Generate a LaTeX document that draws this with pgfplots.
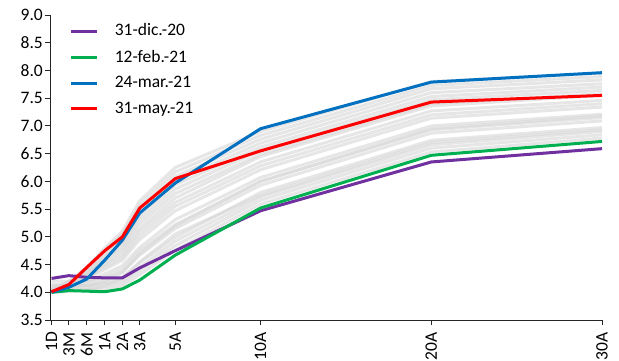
\documentclass[border=0pt]{standalone}
\usepackage{pgfplots}
\usepackage{pgfplotstable}
\pgfplotsset{compat=1.18}
\usepackage{fontspec}
\setmainfont{Carlito}
\definecolor{cpurple}{HTML}{7030A0}
\definecolor{cgreen}{HTML}{00B050}
\definecolor{cblue}{HTML}{0070C0}
\definecolor{cred}{HTML}{FF0000}
\definecolor{axgray}{HTML}{262626}

\pgfplotstableread{
x g1 g2 g3 g4 g5 g6 g7 g8 g9 g10 g11 g12 g13 g14 g15 g16 g17 g18 g19 g20
-2.25 4.00 4.01 4.15 4.02 4.20 4.02 4.03 4.10 4.03 4.04 4.04 4.04 4.05 4.05 4.05 4.05 4.00 4.00 4.12 4.05
-1.23 4.03 4.04 4.12 4.07 4.20 4.09 4.11 4.15 4.13 4.15 4.16 4.16 4.17 4.18 4.19 4.20 4.02 4.05 4.10 4.14
-0.18 4.04 4.06 4.12 4.15 4.20 4.19 4.24 4.26 4.28 4.32 4.34 4.36 4.39 4.41 4.43 4.45 4.05 4.10 4.12 4.30
0.87 4.06 4.10 4.18 4.25 4.28 4.33 4.41 4.45 4.49 4.57 4.60 4.64 4.68 4.72 4.76 4.80 4.12 4.20 4.15 4.52
1.90 4.11 4.16 4.27 4.37 4.42 4.48 4.58 4.63 4.68 4.79 4.84 4.89 4.95 5.00 5.05 5.10 4.25 4.35 4.20 4.74
2.92 4.32 4.39 4.53 4.67 4.75 4.81 4.95 5.02 5.09 5.23 5.30 5.37 5.44 5.51 5.58 5.65 4.55 4.70 4.45 5.15
5 4.76 4.84 4.99 5.15 5.22 5.31 5.47 5.55 5.62 5.78 5.86 5.94 6.01 6.09 6.17 6.25 5.05 5.20 4.92 5.70
10 5.59 5.66 5.80 5.93 6.00 6.07 6.21 6.28 6.35 6.49 6.56 6.62 6.69 6.76 6.83 6.90 5.75 6.00 5.72 6.45
20 6.53 6.60 6.74 6.87 6.93 7.00 7.14 7.20 7.27 7.40 7.47 7.53 7.60 7.67 7.73 7.80 6.70 6.95 6.66 7.36
30 6.78 6.84 6.97 7.09 7.15 7.21 7.34 7.40 7.46 7.58 7.64 7.70 7.76 7.83 7.89 7.95 6.93 7.18 6.90 7.55
}\grey

\pgfplotstableread{
x dic feb mar may
-2.25 4.25 4.00 4.00 4.01
-1.23 4.30 4.03 4.09 4.14
-0.18 4.27 4.02 4.24 4.45
0.87 4.26 4.01 4.58 4.75
1.90 4.26 4.06 4.94 5.00
2.92 4.44 4.22 5.43 5.52
5 4.75 4.67 5.97 6.05
10 5.47 5.52 6.95 6.55
20 6.35 6.47 7.79 7.43
30 6.59 6.72 7.96 7.55
}\main

\begin{document}
\fontsize{17.5}{20}\selectfont
\begin{tikzpicture}
\useasboundingbox (-50pt,-40pt) rectangle (569pt,320pt);
\begin{axis}[
  scale only axis,
  width=552pt, height=305pt,
  xmin=-2.34, xmax=30,
  ymin=3.5, ymax=9.0,
  axis lines*=left,
  axis line style={axgray, line width=0.9pt},
  tick style={axgray, line width=0.9pt},
  tick align=outside,
  major tick length=5pt,
  xtick={-2.25,-1.23,-0.18,0.87,1.90,2.92,5,10,20,30},
  xticklabels={1D,3M,6M,1A,2A,3A,5A,10A,20A,30A},
  xticklabel shift=5pt,
  x tick label style={rotate=90, anchor=east, inner sep=2pt, font=\fontsize{17.5}{20}\selectfont},
  ytick={3.5,4.0,...,9.0},
  y tick label style={font=\fontsize{17.5}{20}\selectfont, inner sep=2pt},
  yticklabel style={/pgf/number format/fixed, /pgf/number format/fixed zerofill, /pgf/number format/precision=1},
  /pgf/number format/assume math mode=true,
  legend style={draw=none, fill=none, at={(0.03,0.985)}, anchor=north west,
    font=\fontsize{17.5}{20}\selectfont, row sep=7.5pt},
  legend cell align=left,
  legend image code/.code={\draw[#1] (0pt,0pt) -- (26pt,0pt); \path (40pt,0pt);},
  clip=false,
]
\pgfplotsinvokeforeach{1,...,20}{
  \addplot[forget plot, color=gray!32, opacity=0.6, line width=3pt] table[x=x, y=g#1] {\grey};
}
\addplot[cpurple, line width=3pt] table[x=x, y=dic] {\main};
\addlegendentry{31-dic.-20}
\addplot[cgreen, line width=3pt] table[x=x, y=feb] {\main};
\addlegendentry{12-feb.-21}
\addplot[cblue, line width=3pt] table[x=x, y=mar] {\main};
\addlegendentry{24-mar.-21}
\addplot[cred, line width=3pt] table[x=x, y=may] {\main};
\addlegendentry{31-may.-21}
\end{axis}
\end{tikzpicture}
\end{document}
